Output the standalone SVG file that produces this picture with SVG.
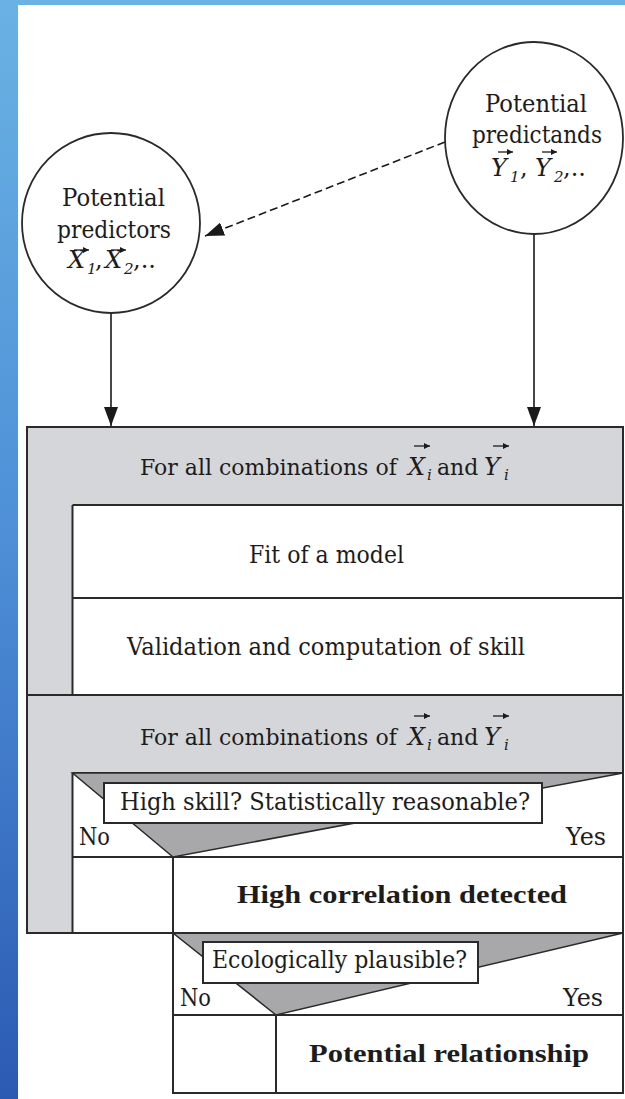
<svg xmlns="http://www.w3.org/2000/svg" width="625" height="1099" viewBox="0 0 625 1099">
<defs>
  <linearGradient id="blueStrip" x1="0" y1="0" x2="0" y2="1">
    <stop offset="0" stop-color="#6ab2e4"/>
    <stop offset="0.5" stop-color="#4d8ed6"/>
    <stop offset="1" stop-color="#2b5ab3"/>
  </linearGradient>
  <marker id="ah" markerUnits="userSpaceOnUse" markerWidth="20" markerHeight="14" refX="19" refY="7" orient="auto">
    <path d="M0,0 L19,7 L0,14 Z" fill="#1a1a1a"/>
  </marker>
  <marker id="vh" markerUnits="userSpaceOnUse" markerWidth="7" markerHeight="6" refX="6" refY="3" orient="auto">
    <path d="M0,0 L6,3 L0,6 Z" fill="#1a1a1a"/>
  </marker>
</defs>
<style>
  .t { font-family: "DejaVu Serif", "Liberation Serif", serif; font-size: 24px; fill: #1c1c1c; }
  .h { font-size: 22px; }
  .b { font-family: "Liberation Serif", "DejaVu Serif", serif; font-size: 26px; font-weight: bold; }
  .it { font-style: italic; font-size: 24px; }
  .s { font-size: 15px; font-style: italic; }
  .node { fill: #ffffff; stroke: #2a2a2a; stroke-width: 1.8; }
  .gray { fill: #d5d6da; }
  .white { fill: #ffffff; }
  .ln { stroke: #2a2a2a; stroke-width: 2; fill: none; }
  .tri { fill: #a8a8ab; stroke: #2a2a2a; stroke-width: 1.5; }
  .qbox { fill: #ffffff; stroke: #2a2a2a; stroke-width: 2; }
  .vec { stroke: #1c1c1c; stroke-width: 1.3; fill: none; marker-end: url(#vh); }
  .conn { stroke: #1a1a1a; stroke-width: 1.6; fill: none; marker-end: url(#ah); }
  .dash { stroke-dasharray: 8 4; }
</style>

<!-- page background -->
<rect x="0" y="0" width="625" height="1099" fill="#ffffff"/>
<rect x="0" y="0" width="625" height="5" fill="#6ab2e4"/>
<rect x="0" y="0" width="18" height="1099" fill="url(#blueStrip)"/>

<!-- connectors -->
<g id="connectors">
  <line class="conn dash" x1="445" y1="142" x2="205" y2="236"/>
  <line class="conn" x1="111" y1="313" x2="111" y2="426"/>
  <line class="conn" x1="534" y1="234" x2="534" y2="426"/>
</g>

<!-- predictors -->
<g id="predictors">
  <ellipse class="node" cx="111" cy="223" rx="89" ry="90"/>
  <text class="t" x="62" y="206" textLength="103" lengthAdjust="spacingAndGlyphs">Potential</text>
  <text class="t" x="57" y="238" textLength="114" lengthAdjust="spacingAndGlyphs">predictors</text>
  <text class="t" y="268"><tspan class="it" x="68">X</tspan><tspan class="s" x="87" y="274">1</tspan><tspan x="95" y="268">,</tspan><tspan class="it" x="105">X</tspan><tspan class="s" x="124" y="274">2</tspan><tspan x="133" y="268">,..</tspan></text>
  <path class="vec" d="M74,250 H89"/>
  <path class="vec" d="M111,250 H126"/>
</g>

<!-- predictands -->
<g id="predictands">
  <ellipse class="node" cx="534" cy="138" rx="89" ry="96"/>
  <text class="t" x="485" y="112" textLength="102" lengthAdjust="spacingAndGlyphs">Potential</text>
  <text class="t" x="472" y="143" textLength="130" lengthAdjust="spacingAndGlyphs">predictands</text>
  <text class="t" y="176"><tspan class="it" x="491">Y</tspan><tspan class="s" x="510" y="182">1</tspan><tspan x="520" y="176">,</tspan><tspan class="it" x="535">Y</tspan><tspan class="s" x="554" y="182">2</tspan><tspan x="563" y="176">,..</tspan></text>
  <path class="vec" d="M498,152 H513"/>
  <path class="vec" d="M542,152 H557"/>
</g>

<!-- loop 1 -->
<g id="loop1">
  <rect class="gray" x="27" y="427" width="596" height="268"/>
  <rect class="white" x="72.5" y="505" width="550.5" height="190"/>
  <line class="ln" x1="72.5" y1="505" x2="623" y2="505"/>
  <line class="ln" x1="72.5" y1="505" x2="72.5" y2="695"/>
  <line class="ln" x1="72.5" y1="598" x2="623" y2="598"/>
  <rect class="ln" x="27" y="427" width="596" height="268"/>
  <text class="t h" y="475"><tspan x="140">For all combinations of</tspan><tspan class="it" x="408">X</tspan><tspan class="s" x="427" y="480">i</tspan><tspan x="437" y="475">and</tspan><tspan class="it" x="484">Y</tspan><tspan class="s" x="504" y="480">i</tspan></text>
  <path class="vec" d="M414,446 H430"/>
  <path class="vec" d="M493,446 H509"/>
</g>
<g id="fit">
  <text class="t" x="249" y="563" textLength="155" lengthAdjust="spacingAndGlyphs">Fit of a model</text>
</g>
<g id="validation">
  <text class="t" x="127" y="655" textLength="398" lengthAdjust="spacingAndGlyphs">Validation and computation of skill</text>
</g>

<!-- loop 2 -->
<g id="loop2">
  <rect class="gray" x="27" y="695" width="596" height="238"/>
  <rect class="white" x="72.5" y="773" width="550.5" height="160"/>
  <rect class="ln" x="27" y="695" width="596" height="238"/>
  <line class="ln" x1="72.5" y1="773" x2="623" y2="773"/>
  <line class="ln" x1="72.5" y1="773" x2="72.5" y2="933"/>
  <text class="t h" y="745"><tspan x="140">For all combinations of</tspan><tspan class="it" x="408">X</tspan><tspan class="s" x="427" y="750">i</tspan><tspan x="437" y="745">and</tspan><tspan class="it" x="484">Y</tspan><tspan class="s" x="504" y="750">i</tspan></text>
  <path class="vec" d="M414,716 H430"/>
  <path class="vec" d="M493,716 H509"/>
</g>

<!-- decision 1 -->
<g id="decision1">
  <polygon class="tri" points="72.5,773 623,773 173,857"/>
  <rect class="qbox" x="104" y="783" width="438" height="40"/>
  <text class="t" x="120" y="810" textLength="410" lengthAdjust="spacingAndGlyphs">High skill? Statistically reasonable?</text>
  <text class="t" x="79" y="845" textLength="31" lengthAdjust="spacingAndGlyphs">No</text>
  <text class="t" x="566" y="845" textLength="40" lengthAdjust="spacingAndGlyphs">Yes</text>
  <line class="ln" x1="72.5" y1="857" x2="623" y2="857"/>
  <line class="ln" x1="173" y1="857" x2="173" y2="933"/>
</g>
<g id="highcorr">
  <text class="t b" x="237" y="903" textLength="330" lengthAdjust="spacingAndGlyphs">High correlation detected</text>
</g>

<!-- decision 2 -->
<g id="decision2">
  <rect class="white" x="173" y="933" width="450" height="160"/>
  <polygon class="tri" points="173,933 623,933 276,1015"/>
  <rect class="qbox" x="203" y="942" width="275" height="41"/>
  <text class="t" x="212" y="968" textLength="255" lengthAdjust="spacingAndGlyphs">Ecologically plausible?</text>
  <text class="t" x="180" y="1006" textLength="31" lengthAdjust="spacingAndGlyphs">No</text>
  <text class="t" x="563" y="1006" textLength="40" lengthAdjust="spacingAndGlyphs">Yes</text>
  <line class="ln" x1="173" y1="1015" x2="623" y2="1015"/>
  <line class="ln" x1="276" y1="1015" x2="276" y2="1093"/>
  <rect class="ln" x="173" y="933" width="450" height="160"/>
</g>
<g id="relationship">
  <text class="t b" x="309" y="1062" textLength="280" lengthAdjust="spacingAndGlyphs">Potential relationship</text>
</g>
</svg>
